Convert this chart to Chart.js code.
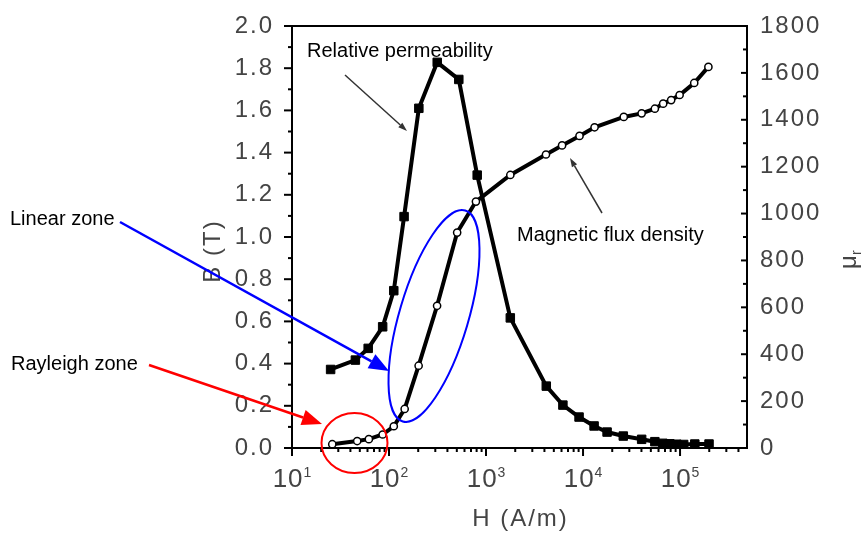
<!DOCTYPE html>
<html>
<head>
<meta charset="utf-8">
<script src="https://cdn.jsdelivr.net/npm/chart.js@4.4.0/dist/chart.umd.min.js"></script>
<style>
  html, body { margin: 0; padding: 0; background: #fff; }
  #wrap { width: 866px; height: 535px; }
</style>
</head>
<body>
<div id="wrap"><canvas id="chart" width="866" height="535"></canvas></div>
<script>
// field strength H (A/m) of each measured point, flux density curve
const hFlux = [26, 47, 62, 86, 112, 145, 202, 313, 504, 787, 1780, 4150, 6080, 9200, 13150,
  26300, 40200, 55000, 67000, 81000, 99000, 140000, 196000];
const fluxDensity = [0.018, 0.033, 0.042, 0.064, 0.103, 0.185, 0.39, 0.674, 1.021, 1.168, 1.294,
  1.391, 1.434, 1.479, 1.52, 1.569, 1.586, 1.608, 1.632, 1.649, 1.673, 1.73, 1.806];

// field strength H (A/m) of each measured point, relative permeability curve
const hPerm = [25, 45, 61, 86, 112, 143, 203, 314, 524, 811, 1780, 4180, 6200, 9100, 13000,
  17700, 26000, 40200, 55000, 66500, 78500, 92700, 109000, 142000, 199000];
const relPerm = [335, 375, 425, 517, 671, 987, 1449, 1645, 1572, 1164, 555, 264, 183, 132, 94,
  68, 51, 37, 27, 20, 18, 16, 15, 17, 17];

const decades = [1, 2, 3, 4, 5];
const bRange = [0, 2];
const muRange = [0, 1800];
const hRange = [10, 490000];

const GREY = '#444';
const FONT = '"Liberation Sans", Arial, sans-serif';

function toPoints(xs, ys) {
  return xs.map((x, i) => ({ x: x, y: ys[i] }));
}

function arrow(ctx, x1, y1, x2, y2, color, lw, headLen, headHalf) {
  const ang = Math.atan2(y2 - y1, x2 - x1);
  const bx = x2 - Math.cos(ang) * headLen;
  const by = y2 - Math.sin(ang) * headLen;
  ctx.strokeStyle = color;
  ctx.fillStyle = color;
  ctx.lineWidth = lw;
  ctx.beginPath();
  ctx.moveTo(x1, y1);
  ctx.lineTo(bx, by);
  ctx.stroke();
  ctx.beginPath();
  ctx.moveTo(x2, y2);
  ctx.lineTo(bx + Math.sin(ang) * headHalf, by - Math.cos(ang) * headHalf);
  ctx.lineTo(bx - Math.sin(ang) * headHalf, by + Math.cos(ang) * headHalf);
  ctx.closePath();
  ctx.fill();
}

// fixed axis boxes so the plot frame sits where the original one is
function fixVertical(width) {
  return function (s) {
    s.width = width;
    s.paddingTop = 0;
    s.paddingBottom = 0;
  };
}

// tick labels in the original are spaced out a little
const spacing = {
  id: 'spacing',
  beforeDraw(chart) { chart.ctx.letterSpacing = '2px'; },
  afterDraw(chart) { chart.ctx.letterSpacing = '0px'; }
};

const decor = {
  id: 'decor',
  afterDraw(chart) {
    const ctx = chart.ctx;
    const a = chart.chartArea;
    const xs = chart.scales.x, yl = chart.scales.y, yr = chart.scales.y2;
    ctx.save();
    ctx.letterSpacing = '0px';
    ctx.strokeStyle = '#000';
    ctx.lineCap = 'butt';

    // frame top
    ctx.lineWidth = 2;
    ctx.beginPath();
    ctx.moveTo(a.left - 1, a.top);
    ctx.lineTo(a.right + 1, a.top);
    ctx.stroke();

    // ticks, left axis (outward)
    for (let i = 0; i <= 20; i++) {
      const p = yl.getPixelForValue(bRange[0] + i * 0.1);
      const len = i % 2 === 0 ? 8 : 4;
      ctx.beginPath();
      ctx.moveTo(a.left - len, p);
      ctx.lineTo(a.left, p);
      ctx.stroke();
    }
    // ticks, right axis (inward)
    for (let i = 0; i <= 18; i++) {
      const p = yr.getPixelForValue(muRange[0] + i * 100);
      const len = i % 2 === 0 ? 6 : 4;
      ctx.beginPath();
      ctx.moveTo(a.right - len, p);
      ctx.lineTo(a.right, p);
      ctx.stroke();
    }
    // ticks, bottom axis (outward)
    for (let d = 1; d <= 5; d++) {
      for (let m = 1; m <= 9; m++) {
        const v = m * Math.pow(10, d);
        if (v > hRange[1]) continue;
        const p = xs.getPixelForValue(v);
        const len = m === 1 ? 8 : 4;
        ctx.beginPath();
        ctx.moveTo(p, a.bottom);
        ctx.lineTo(p, a.bottom + len);
        ctx.stroke();
      }
    }

    // bottom tick labels 10^n
    ctx.fillStyle = GREY;
    ctx.textBaseline = 'alphabetic';
    ctx.textAlign = 'left';
    decades.forEach(d => {
      const p = xs.getPixelForValue(Math.pow(10, d));
      ctx.letterSpacing = '1px';
      ctx.font = '26px ' + FONT;
      const wb = ctx.measureText('10').width;
      ctx.letterSpacing = '0px';
      ctx.font = '14px ' + FONT;
      const we = ctx.measureText(String(d)).width;
      const x0 = p - (wb + we) / 2;
      ctx.letterSpacing = '1px';
      ctx.font = '26px ' + FONT;
      ctx.fillText('10', x0, 487);
      ctx.letterSpacing = '0px';
      ctx.font = '14px ' + FONT;
      ctx.fillText(String(d), x0 + wb, 477);
    });

    // axis titles
    ctx.letterSpacing = '2px';
    ctx.font = '24px ' + FONT;
    ctx.textAlign = 'center';
    ctx.textBaseline = 'middle';
    ctx.fillText('H (A/m)', (a.left + a.right) / 2 + 1, 519);
    ctx.save();
    ctx.translate(213, 251);
    ctx.rotate(-Math.PI / 2);
    ctx.fillText('B (T)', 0, 0);
    ctx.restore();
    ctx.save();
    ctx.translate(849, 262);
    ctx.rotate(-Math.PI / 2);
    ctx.letterSpacing = '0px';
    ctx.textAlign = 'left';
    ctx.font = '24px ' + FONT;
    ctx.fillText('\u03bc', -7, 0);
    ctx.font = '14px ' + FONT;
    ctx.fillText('r', 7, 8);
    ctx.restore();

    // annotations
    ctx.letterSpacing = '0px';
    ctx.fillStyle = '#000';
    ctx.font = '20px ' + FONT;
    ctx.textAlign = 'left';
    ctx.textBaseline = 'middle';
    ctx.fillText('Relative permeability', 307, 51);
    ctx.fillText('Magnetic flux density', 517, 235);
    ctx.fillText('Linear zone', 10, 219);
    ctx.fillText('Rayleigh zone', 11, 364);

    arrow(ctx, 345, 75, 407, 131, '#333', 1.5, 9, 3);
    arrow(ctx, 602, 213, 570, 158, '#333', 1.5, 9, 3);
    arrow(ctx, 120, 222, 389, 371, '#0000ff', 2.5, 20, 8);
    arrow(ctx, 149, 365, 322, 424, '#ff0000', 2.5, 20, 8);

    ctx.lineWidth = 2;
    ctx.strokeStyle = '#0000ff';
    ctx.beginPath();
    ctx.ellipse(434, 316, 34.5, 110, 16.5 * Math.PI / 180, 0, Math.PI * 2);
    ctx.stroke();
    ctx.strokeStyle = '#ff0000';
    ctx.beginPath();
    ctx.ellipse(354.5, 443, 33, 30, 0, 0, Math.PI * 2);
    ctx.stroke();

    ctx.restore();
  }
};

new Chart(document.getElementById('chart'), {
  type: 'scatter',
  data: {
    datasets: [
      {
        label: 'Magnetic flux density',
        data: toPoints(hFlux, fluxDensity),
        yAxisID: 'y',
        showLine: true,
        borderColor: '#000',
        borderWidth: 4,
        pointStyle: 'circle',
        pointRadius: 3.6,
        pointBackgroundColor: '#fff',
        pointBorderColor: '#000',
        pointBorderWidth: 1.5
      },
      {
        label: 'Relative permeability',
        data: toPoints(hPerm, relPerm),
        yAxisID: 'y2',
        showLine: true,
        borderColor: '#000',
        borderWidth: 4,
        pointStyle: 'rect',
        pointRadius: 6,
        pointBackgroundColor: '#000',
        pointBorderColor: '#000',
        pointBorderWidth: 1
      }
    ]
  },
  options: {
    responsive: false,
    devicePixelRatio: 1,
    animation: false,
    layout: { padding: { top: 26, left: 0, right: 0, bottom: 0 } },
    plugins: {
      legend: { display: false },
      tooltip: { enabled: false }
    },
    scales: {
      x: {
        type: 'logarithmic',
        position: 'bottom',
        min: hRange[0],
        max: hRange[1],
        grid: { display: false },
        border: { display: true, color: '#000', width: 2 },
        ticks: { display: false },
        afterFit(s) {
          s.height = 87;
          s.paddingLeft = 0;
          s.paddingRight = 0;
        }
      },
      y: {
        position: 'left',
        min: bRange[0],
        max: bRange[1],
        grid: { display: false },
        border: { display: true, color: '#000', width: 2 },
        ticks: {
          stepSize: 0.2,
          padding: 10,
          color: GREY,
          font: { family: FONT, size: 24 },
          callback: v => Number(v).toFixed(1)
        },
        afterFit: fixVertical(292)
      },
      y2: {
        position: 'right',
        min: muRange[0],
        max: muRange[1],
        grid: { display: false },
        border: { display: true, color: '#000', width: 2 },
        ticks: {
          stepSize: 200,
          padding: 5,
          color: GREY,
          font: { family: FONT, size: 24 },
          callback: v => String(v)
        },
        afterFit: fixVertical(119)
      }
    }
  },
  plugins: [spacing, decor]
});
</script>
</body>
</html>
